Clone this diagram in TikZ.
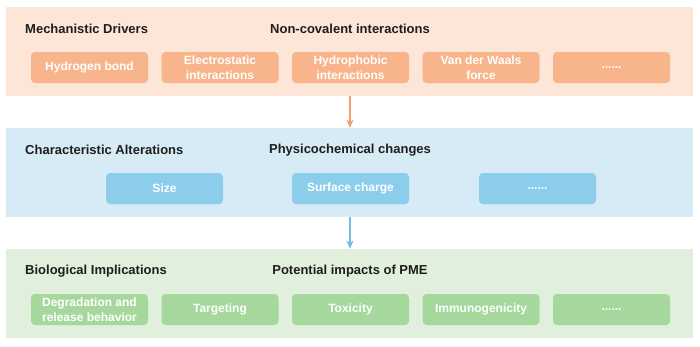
\documentclass[tikz,border=0pt]{standalone}
\usepackage{fontspec}
\setmainfont{Liberation Sans}
\usetikzlibrary{arrows.meta}
\definecolor{obg}{HTML}{FDE5D7}
\definecolor{obox}{HTML}{F8B48A}
\definecolor{oarr}{HTML}{F39F73}
\definecolor{bbg}{HTML}{D6EBF6}
\definecolor{bbox}{HTML}{8BCDEB}
\definecolor{barr}{HTML}{76BDE6}
\definecolor{gbg}{HTML}{E0F0DC}
\definecolor{gbox}{HTML}{A6D89E}
\definecolor{ttl}{HTML}{1E1E1E}
\tikzset{
  panel/.style={draw=none, minimum width=687pt, minimum height=89pt, inner sep=0pt},
  itembox/.style={rounded corners=4pt, minimum width=117pt, minimum height=31pt, inner sep=1pt,
    text=white, align=center, font=\fontsize{12}{15}\selectfont\bfseries},
  ttlleft/.style={anchor=west, inner sep=0pt, text=ttl, font=\fontsize{13}{15}\selectfont\bfseries},
  ttlmid/.style={anchor=center, inner sep=0pt, text=ttl, font=\fontsize{13}{15}\selectfont\bfseries},
  arr/.style={line width=1.2pt, -{Stealth[length=8pt,width=7pt,inset=2pt]}}
}
\begin{document}
\begin{tikzpicture}[x=1pt,y=-1pt]
\useasboundingbox (0,0) rectangle (700,346);
\fill[white] (0,0) rectangle (700,346);
% panels
\node[panel, fill=obg] (p1) at (349.5,51.5) {};
\node[panel, fill=bbg] (p2) at (349.5,172.5) {};
\node[panel, fill=gbg] (p3) at (349.5,293.5) {};
% titles
\node[ttlleft] (t1a) at (25,29) {Mechanistic Drivers};
\node[ttlmid] (t1b) at (350,29) {Non-covalent interactions};
\node[ttlleft] (t2a) at (25,150) {Characteristic Alterations};
\node[ttlmid] (t2b) at (350,150) {Physicochemical changes};
\node[ttlleft] (t3a) at (25,271) {Biological Implications};
\node[ttlmid] (t3b) at (350,271) {Potential impacts of PME};
% row 1
\node[itembox, fill=obox] (a1) at (89.5,67.5) {Hydrogen bond};
\node[itembox, fill=obox] (a2) at (220,67.5) {Electrostatic\\interactions};
\node[itembox, fill=obox] (a3) at (350.5,67.5) {Hydrophobic\\interactions};
\node[itembox, fill=obox] (a4) at (481,67.5) {Van der Waals\\force};
\node[itembox, fill=obox] (a5) at (611.5,67.5) {......};
% row 2
\node[itembox, fill=bbox] (b1) at (164.5,188.5) {Size};
\node[itembox, fill=bbox] (b2) at (350.5,188.5) {Surface charge};
\node[itembox, fill=bbox] (b3) at (537.5,188.5) {......};
% row 3
\node[itembox, fill=gbox] (c1) at (89.5,309.5) {Degradation and\\release behavior};
\node[itembox, fill=gbox] (c2) at (220,309.5) {Targeting};
\node[itembox, fill=gbox] (c3) at (350.5,309.5) {Toxicity};
\node[itembox, fill=gbox] (c4) at (481,309.5) {Immunogenicity};
\node[itembox, fill=gbox] (c5) at (611.5,309.5) {......};
% arrows
\draw[arr, draw=oarr, oarr] (p1.south) ++(0.5,0) coordinate (s1) -- (s1 |- p2.north);
\draw[arr, draw=barr, barr] (p2.south) ++(0.5,0) coordinate (s2) -- (s2 |- p3.north);
\end{tikzpicture}
\end{document}
